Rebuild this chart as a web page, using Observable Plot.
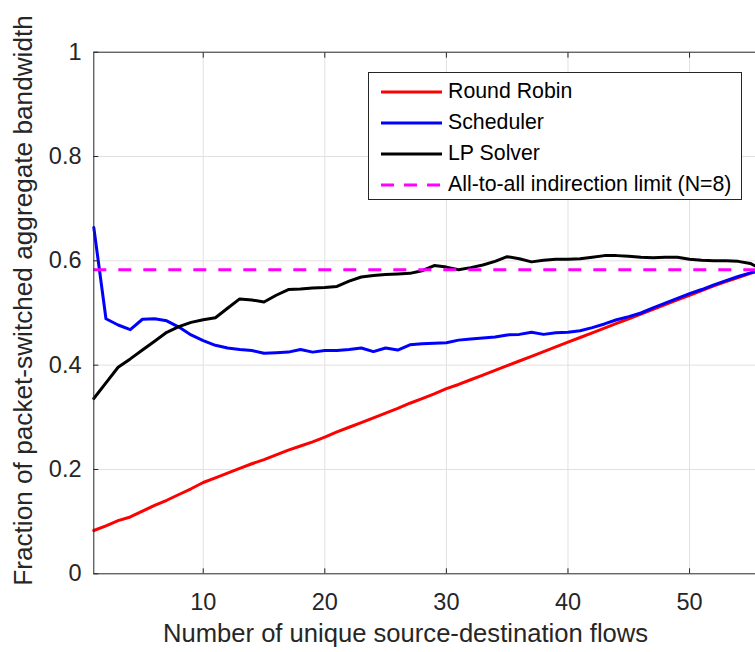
<!DOCTYPE html>
<html>
<head>
<meta charset="utf-8">
<script src="https://cdn.jsdelivr.net/npm/d3@7"></script>
<script src="https://cdn.jsdelivr.net/npm/@observablehq/plot@0.6"></script>
<style>
  html, body { margin: 0; padding: 0; background: #fff; overflow: hidden; }
  #wrap { position: relative; width: 755px; height: 652px; overflow: hidden;
          font-family: "Liberation Sans", Arial, sans-serif; }
  #legend { position: absolute; left: 368px; top: 72px; width: 374px; height: 128px;
            box-sizing: border-box; border: 1px solid #262626; background: #fff;
            padding: 3px 0 0 12px; }
  .row { display: flex; align-items: center; height: 31px; font-size: 21.3px; color: #000; white-space: nowrap; }
  .row svg { margin-right: 6px; flex: none; }
</style>
</head>
<body>
<div id="wrap"></div>
<script>
// Number of unique source-destination flows (N = 8 → up to 56 flows)
const flows = [1, 2, 3, 4, 5, 6, 7, 8, 9, 10, 11, 12, 13, 14, 15, 16, 17, 18, 19, 20,
  21, 22, 23, 24, 25, 26, 27, 28, 29, 30, 31, 32, 33, 34, 35, 36, 37, 38, 39, 40,
  41, 42, 43, 44, 45, 46, 47, 48, 49, 50, 51, 52, 53, 54, 55, 56];

// Fraction of packet-switched aggregate bandwidth per method
const roundRobin = [0.083, 0.092, 0.102, 0.109, 0.120, 0.131, 0.141, 0.152, 0.163, 0.175,
  0.184, 0.193, 0.202, 0.211, 0.219, 0.228, 0.237, 0.245, 0.253, 0.262,
  0.272, 0.281, 0.290, 0.299, 0.308, 0.317, 0.327, 0.336, 0.345, 0.355,
  0.363, 0.372, 0.381, 0.390, 0.399, 0.408, 0.417, 0.426, 0.435, 0.444,
  0.453, 0.462, 0.471, 0.480, 0.489, 0.498, 0.507, 0.516, 0.525, 0.534,
  0.543, 0.552, 0.560, 0.568, 0.576, 0.583];

const scheduler = [0.664, 0.489, 0.477, 0.468, 0.488, 0.489, 0.485, 0.473, 0.458, 0.447,
  0.438, 0.433, 0.430, 0.428, 0.423, 0.424, 0.425, 0.430, 0.425, 0.428,
  0.428, 0.430, 0.433, 0.426, 0.433, 0.429, 0.439, 0.441, 0.442, 0.443,
  0.448, 0.450, 0.452, 0.454, 0.458, 0.459, 0.463, 0.459, 0.462, 0.463,
  0.466, 0.472, 0.479, 0.487, 0.493, 0.500, 0.510, 0.519, 0.528, 0.537,
  0.545, 0.554, 0.562, 0.570, 0.577, 0.583];

const lpSolver = [0.336, 0.366, 0.396, 0.412, 0.429, 0.446, 0.463, 0.474, 0.482, 0.487,
  0.491, 0.509, 0.527, 0.525, 0.521, 0.534, 0.545, 0.546, 0.548, 0.549,
  0.551, 0.561, 0.569, 0.572, 0.574, 0.575, 0.576, 0.581, 0.591, 0.588,
  0.583, 0.587, 0.592, 0.599, 0.608, 0.604, 0.598, 0.601, 0.603, 0.603,
  0.604, 0.607, 0.610, 0.610, 0.609, 0.607, 0.606, 0.607, 0.607, 0.603,
  0.601, 0.600, 0.600, 0.599, 0.595, 0.583];

// All-to-all indirection limit for N = 8 (7/12)
const allToAllLimit = 0.583;

const xTicks = [10, 20, 30, 40, 50];
const yTicks = [0, 0.2, 0.4, 0.6, 0.8, 1];
const seriesNames = ["Round Robin", "Scheduler", "LP Solver", "All-to-all indirection limit (N=8)"];
const seriesColors = ["#ff0000", "#0000ff", "#000000", "#ff00ff"];
const xLabel = "Number of unique source-destination flows";
const yLabel = "Fraction of packet-switched aggregate bandwidth";

const series = [roundRobin, scheduler, lpSolver];
const rows = series.flatMap((values, s) =>
  flows.map((f, i) => ({flows: f, value: values[i], series: seriesNames[s]})));

const axisColor = "#262626";
const gridColor = "#e1e1e1";

const chart = Plot.plot({
  width: 770,
  height: 652,
  marginLeft: 93.3,
  marginRight: 8,
  marginTop: 51.7,
  marginBottom: 78.7,
  style: {fontFamily: "'Liberation Sans', Arial, sans-serif", maxWidth: "none", color: axisColor, background: "#fff"},
  x: {domain: [1, 56]},
  y: {domain: [0, 1]},
  color: {domain: seriesNames, range: seriesColors},
  marks: [
    Plot.gridX(xTicks, {stroke: gridColor, strokeOpacity: 1}),
    Plot.gridY(yTicks.slice(1, -1), {stroke: gridColor, strokeOpacity: 1}),
    Plot.line(rows, {x: "flows", y: "value", z: "series", stroke: "series", strokeWidth: 3}),
    Plot.ruleY([allToAllLimit], {stroke: seriesColors[3], strokeWidth: 3, strokeDasharray: "13,12"}),
    Plot.frame({stroke: axisColor}),
    Plot.axisX(xTicks, {anchor: "bottom", tickSize: -5, tickPadding: 24.7, fontSize: 23.5, label: null}),
    Plot.axisX(xTicks, {anchor: "top", tickSize: -5, tickFormat: () => "", label: null}),
    Plot.axisY(yTicks, {anchor: "left", tickSize: -5, tickPadding: 17.3, fontSize: 23.5,
      tickFormat: d => String(d), label: null}),
    Plot.text([xLabel], {frameAnchor: "bottom", textAnchor: "middle", dx: -22.6, dy: 68,
      lineAnchor: "bottom", fontSize: 25.6}),
    Plot.text([yLabel], {frameAnchor: "left", textAnchor: "middle", rotate: -90, dx: -62.3, dy: -12.5,
      lineAnchor: "bottom", fontSize: 26.2})
  ]
});

const wrap = document.getElementById("wrap");
wrap.appendChild(chart);

// Legend box in the upper right of the plot area
const legend = document.createElement("div");
legend.id = "legend";
seriesNames.forEach((name, i) => {
  const row = document.createElement("div");
  row.className = "row";
  const sw = d3.create("svg").attr("width", 61).attr("height", 6);
  sw.append("line").attr("x1", 0).attr("x2", 61).attr("y1", 3).attr("y2", 3)
    .attr("stroke", seriesColors[i]).attr("stroke-width", 3)
    .attr("stroke-dasharray", i === 3 ? "13,10" : null);
  row.appendChild(sw.node());
  const label = document.createElement("span");
  label.textContent = name;
  row.appendChild(label);
  legend.appendChild(row);
});
wrap.appendChild(legend);
</script>
</body>
</html>
